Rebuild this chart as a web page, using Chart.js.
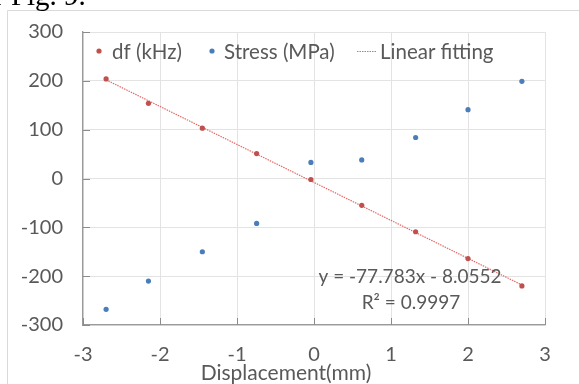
<!DOCTYPE html>
<html><head><meta charset="utf-8">
<script src="https://cdn.jsdelivr.net/npm/chart.js@4"></script>
<style>
html,body{margin:0;padding:0;background:#fff;}
#wrap{position:relative;width:579px;height:384px;overflow:hidden;background:#fff;}
#fig{position:absolute;left:-6px;top:-19px;font-family:'Liberation Serif';font-size:29px;line-height:29px;color:#000;white-space:nowrap;z-index:2;}
canvas{position:absolute;left:0;top:0;}
</style></head><body>
<div id="wrap"><div id="fig">r Fig. 9.</div><canvas id="c" width="579" height="384"></canvas></div>
<script>
const displacement = [-2.7, -2.15, -1.45, -0.745, -0.04, 0.62, 1.32, 2.0, 2.7];
const dfKHz = [204, 154, 103, 51, -2, -55, -109, -164, -220];
const stressMPa = [-268, -210, -150, -92, 33, 38, 84, 141, 199];
const fitX = [-2.7, 2.7];
const fitY = [202, -218];
const xTicks = [-3, -2, -1, 0, 1, 2, 3];
const yTicks = [-300, -200, -100, 0, 100, 200, 300];
const seriesLabels = ['df (kHz)', 'Stress (MPa)', 'Linear fitting'];
const fitEquation = 'y = -77.783x - 8.0552';
const fitR2 = 'R\u00B2 = 0.9997';
const axisTitleX = 'Displacement(mm)';

const FONT = 'Lato';
const TXT = '#595959';
const RED = '#C0504D';
const BLUE = '#4A7EBB';
const FITC = '#E36A66';

const pts = (xs, ys) => xs.map((x, i) => ({x, y: ys[i]}));

const deco = {
  id: 'deco',
  beforeDraw(chart) {
    const c = chart.ctx;
    c.save();
    c.fillStyle = '#fff';
    c.fillRect(0, 0, chart.width, chart.height);
    c.strokeStyle = '#dadada';
    c.lineWidth = 1;
    c.beginPath();
    c.moveTo(7.5, chart.height + 2);
    c.lineTo(7.5, 10.5);
    c.lineTo(chart.width + 2, 10.5);
    c.stroke();
    c.restore();
  },
  afterDraw(chart) {
    const c = chart.ctx;
    const xs = chart.scales.x, ys = chart.scales.y;
    const a = chart.chartArea;
    c.save();
    // inward tick marks
    c.strokeStyle = '#8c8c8c';
    c.lineWidth = 1;
    c.beginPath();
    yTicks.forEach(v => { const p = Math.round(ys.getPixelForValue(v)) + 0.5; c.moveTo(a.left, p); c.lineTo(a.left + 7, p); });
    xTicks.forEach(v => { const p = Math.round(xs.getPixelForValue(v)) + 0.5; c.moveTo(p, a.bottom); c.lineTo(p, a.bottom - 7); });
    c.stroke();
    // legend
    const ds = chart.data.datasets;
    c.font = '20.5px ' + FONT;
    c.textBaseline = 'middle';
    c.textAlign = 'left';
    const ly = 51;
    c.fillStyle = ds[0].backgroundColor;
    c.beginPath(); c.arc(99, ly, 2.6, 0, Math.PI * 2); c.fill();
    c.fillStyle = TXT; c.fillText(ds[0].label, 112, ly + 1);
    c.fillStyle = ds[1].backgroundColor;
    c.beginPath(); c.arc(212, ly, 2.6, 0, Math.PI * 2); c.fill();
    c.fillStyle = TXT; c.fillText(ds[1].label, 224, ly + 1);
    c.strokeStyle = ds[2].borderColor;
    c.lineWidth = 1.2;
    c.setLineDash([1.5, 1]);
    c.beginPath(); c.moveTo(357, ly + 0.5); c.lineTo(377, ly + 0.5); c.stroke();
    c.setLineDash([]);
    c.fillStyle = TXT; c.fillText(ds[2].label, 380, ly + 1);
    // x axis title
    c.textAlign = 'center';
    c.font = '21px ' + FONT;
    c.fillText(axisTitleX, 286, 373);
    // trendline label
    c.font = '19px ' + FONT;
    c.fillText(fitEquation, 410, 277);
    c.fillText(fitR2, 411, 303);
    c.restore();
  }
};

new Chart(document.getElementById('c'), {
  type: 'scatter',
  data: {
    datasets: [
      {label: seriesLabels[0], data: pts(displacement, dfKHz), backgroundColor: RED, borderColor: RED, pointRadius: 2.6, pointBorderWidth: 0, order: 1},
      {label: seriesLabels[1], data: pts(displacement, stressMPa), backgroundColor: BLUE, borderColor: BLUE, pointRadius: 2.6, pointBorderWidth: 0, order: 1},
      {label: seriesLabels[2], data: pts(fitX, fitY), showLine: true, borderColor: FITC, backgroundColor: FITC, borderWidth: 1.2, borderDash: [1.5, 1], pointRadius: 0, order: 2}
    ]
  },
  options: {
    responsive: false,
    animation: false,
    devicePixelRatio: 1,
    layout: {padding: {left: 0, right: 34, top: 29, bottom: 0}},
    plugins: {legend: {display: false}, tooltip: {enabled: false}},
    scales: {
      x: {
        type: 'linear', min: -3, max: 3,
        afterBuildTicks: s => { s.ticks = xTicks.map(v => ({value: v})); },
        afterFit: s => { s.height = 59; },
        grid: {color: '#e3e3e3', drawTicks: false, lineWidth: 1},
        border: {color: '#9a9a9a', width: 1.3},
        ticks: {color: TXT, font: {family: FONT, size: 20}, padding: 18}
      },
      y: {
        type: 'linear', min: -300, max: 300,
        afterBuildTicks: s => { s.ticks = yTicks.map(v => ({value: v})); },
        afterFit: s => { s.width = 83; },
        grid: {color: '#e3e3e3', drawTicks: false, lineWidth: 1},
        border: {color: '#9a9a9a', width: 1.3},
        ticks: {color: TXT, font: {family: FONT, size: 20}, padding: 20}
      }
    }
  },
  plugins: [deco]
});
</script>
</body></html>
